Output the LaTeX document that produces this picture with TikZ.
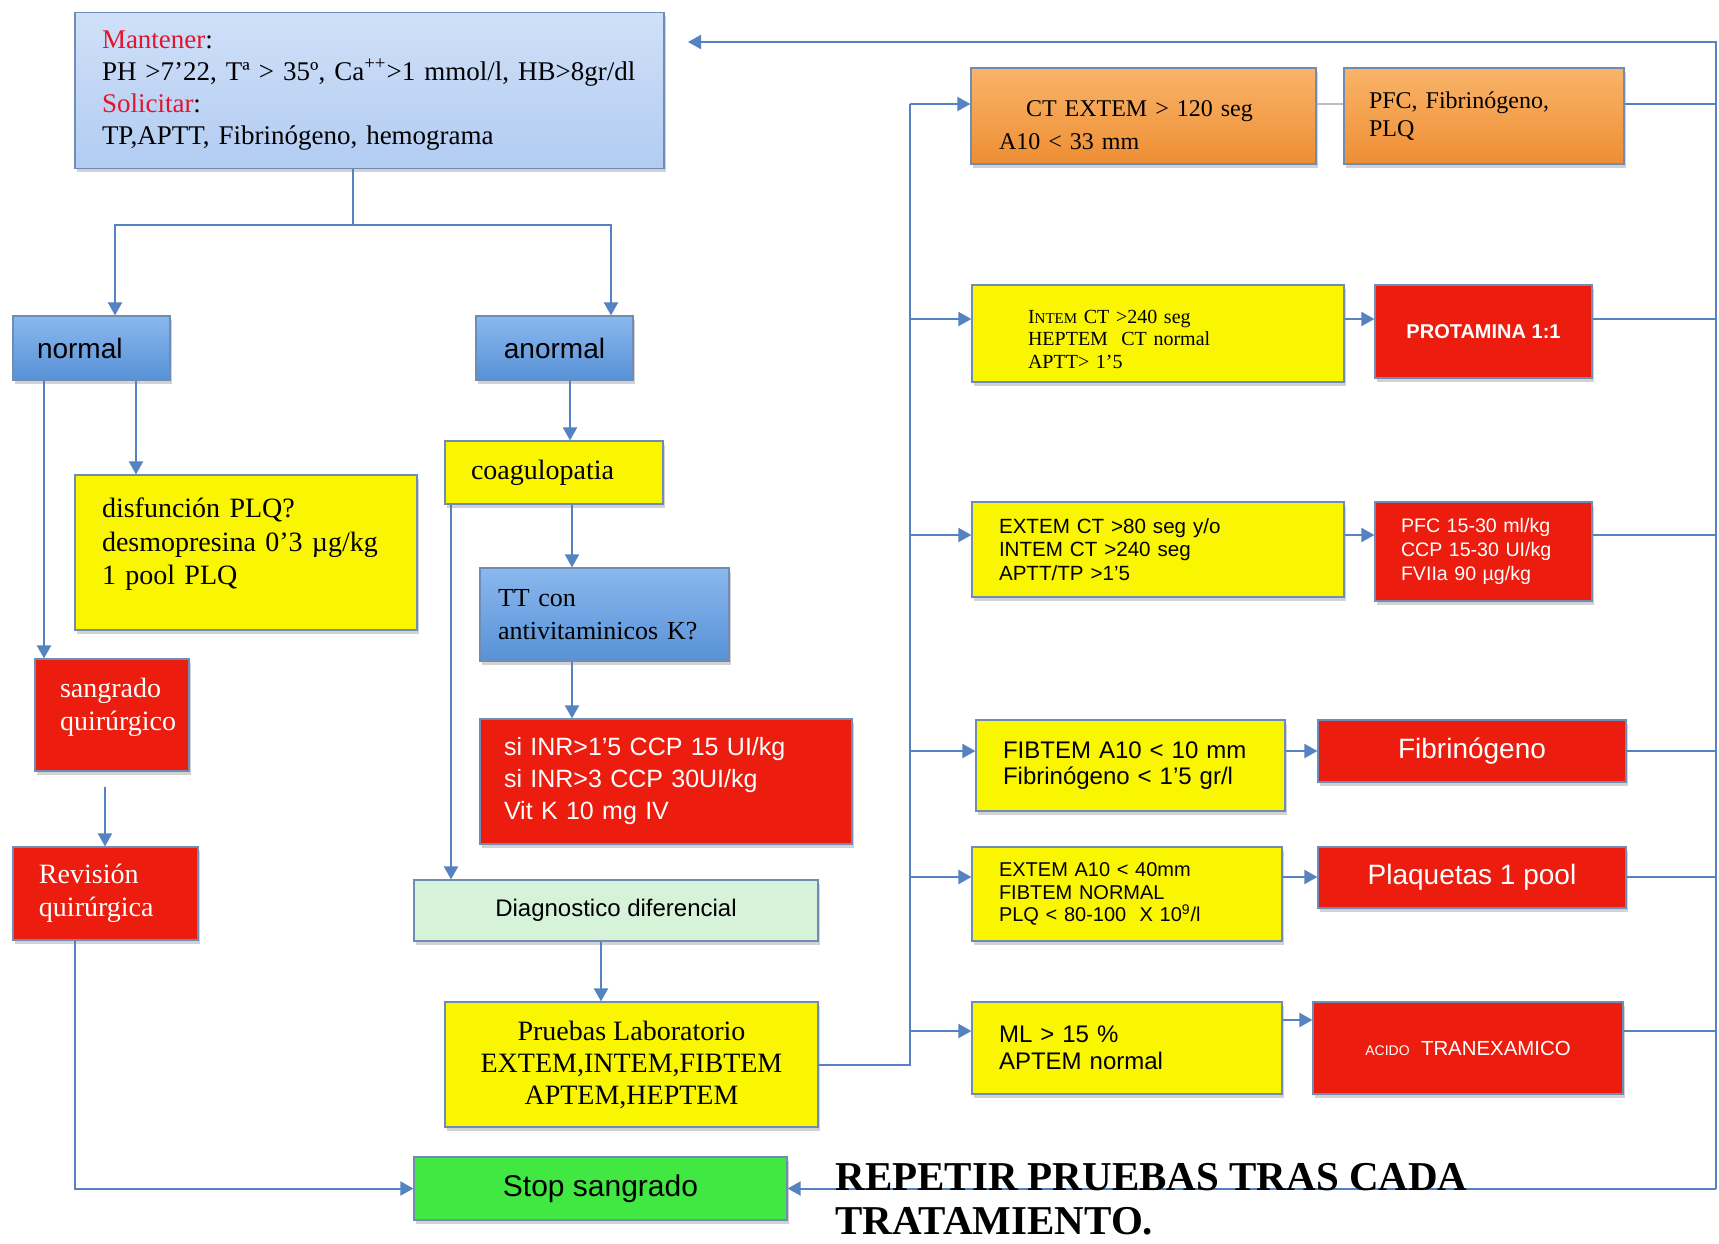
\documentclass[tikz,border=0pt]{standalone}
\usepackage{fontspec}
\setmainfont{Liberation Serif}
\setsansfont{Liberation Sans}
\usepackage{tikz}
\usetikzlibrary{arrows.meta, shadows}

\definecolor{borde}{RGB}{110,140,180}
\definecolor{azullinea}{RGB}{85,130,192}
\definecolor{celesteA}{RGB}{208,224,248}
\definecolor{celesteB}{RGB}{178,204,242}
\definecolor{azulA}{RGB}{138,184,238}
\definecolor{azulB}{RGB}{88,145,215}
\definecolor{amarillo}{RGB}{250,246,0}
\definecolor{rojo}{RGB}{236,28,14}
\definecolor{naranjaA}{RGB}{249,180,104}
\definecolor{naranjaB}{RGB}{238,142,52}
\definecolor{verde}{RGB}{66,232,66}
\definecolor{verdeclaro}{RGB}{214,242,216}
\definecolor{rojotexto}{RGB}{228,20,45}

\begin{document}
\begin{tikzpicture}[
    x=0.5pt, y=-0.5pt,
    caja/.style={draw=borde, line width=0.6pt, align=left, inner ysep=0pt,
        drop shadow={shadow xshift=1.2pt, shadow yshift=-1.8pt, opacity=0.35}},
    celeste/.style={caja, top color=celesteA, bottom color=celesteB},
    azul/.style={caja, top color=azulA, bottom color=azulB},
    amarilla/.style={caja, fill=amarillo},
    roja/.style={caja, fill=rojo, text=white},
    naranja/.style={caja, top color=naranjaA, bottom color=naranjaB},
    verde/.style={caja, fill=verde},
    verdeclara/.style={caja, fill=verdeclaro},
    letra/.style 2 args={font=\fontsize{#1}{#2}\selectfont},
    letrasf/.style 2 args={font=\sffamily\fontsize{#1}{#2}\selectfont},
    flecha/.style={draw=azullinea, line width=1pt, -{Triangle[length=6.5pt, width=7pt]}},
    linea/.style={draw=azullinea, line width=1pt},
    aviso/.style={font=\bfseries\fontsize{20.5}{22}\selectfont, align=left, inner sep=0pt}
]
\fill[white] (0,0) rectangle (1719,1243);
\useasboundingbox (0,0) rectangle (1719,1243);

% columna izquierda
\node[celeste, letra={13.5}{16}, text width=267.5pt, inner xsep=13.5pt, minimum height=78pt] (arriba) at (369.5,90.5)
    {{\color{rojotexto}Mantener}:\\PH >7’22, Tª > 35º, Ca\textsuperscript{++}>1 mmol/l, HB>8gr/dl\\{\color{rojotexto}Solicitar}:\\TP,APTT, Fibrinógeno, hemograma};
\node[azul, letrasf={14}{16}, text width=54.5pt, inner xsep=12pt, minimum height=32pt] (normal) at (91.5,348) {normal};
\node[azul, letrasf={14}{16}, align=center, minimum width=78.5pt, minimum height=32pt] (anormal) at (554.5,348) {anormal};
\node[amarilla, letra={14}{16.7}, text width=144pt, inner xsep=13.5pt, minimum height=77.5pt] (disf) at (246,552.5)
    {disfunción PLQ?\\desmopresina 0’3 µg/kg\\1 pool PLQ\\[-5.7pt]\mbox{}};
\node[roja, letra={14}{16.4}, text width=52pt, inner xsep=12.5pt, minimum height=56pt] (sangrado) at (112,715) {sangrado\\quirúrgico\\[-5.4pt]\mbox{}};
\node[roja, letra={14}{16.4}, text width=66.5pt, inner xsep=13pt, minimum height=46.5pt] (revision) at (105.5,893.5) {Revisión\\quirúrgica};

% columna central
\node[amarilla, letra={14}{16}, text width=83pt, inner xsep=13pt, minimum height=31.5pt] (coag) at (554,472.5) {coagulopatia};
\node[azul, letra={13}{16.4}, text width=106.5pt, inner xsep=9pt, minimum height=46.5pt] (tt) at (604.5,614.5) {TT con\\antivitaminicos K?};
\node[roja, letrasf={12.5}{16}, text width=162pt, inner xsep=12pt, minimum height=62.5pt] (inr) at (666,781.5)
    {si INR>1’5 CCP 15 UI/kg\\si INR>3 CCP 30UI/kg\\Vit K 10 mg IV};
\node[verdeclara, letrasf={12}{14}, align=center, minimum width=202pt, minimum height=30.5pt] (diag) at (616,910.5) {Diagnostico diferencial};
\node[amarilla, letra={14}{16}, align=center, minimum width=186.5pt, minimum height=62.5pt] (pruebas) at (631.5,1064.5)
    {Pruebas Laboratorio\\EXTEM,INTEM,FIBTEM\\APTEM,HEPTEM};
\node[verde, letrasf={15}{17}, align=center, minimum width=186.5pt, minimum height=31.5pt] (stop) at (600.5,1188.5) {Stop sangrado};

% columna derecha
\node[naranja, letra={12}{16.4}, text width=144.5pt, inner xsep=14pt, minimum height=48pt] (ct) at (1143.5,116)
    {\mbox{}\\[0.8pt]\hspace*{13.5pt}CT EXTEM > 120 seg\\A10 < 33 mm};
\node[naranja, letra={12}{14.3}, text width=115pt, inner xsep=12.5pt, minimum height=48pt] (pfcorange) at (1484,116)
    {PFC, Fibrinógeno,\\PLQ};
\node[amarilla, letra={10}{11.2}, text width=130pt, inner xsep=28pt, minimum height=48.5pt] (intem) at (1158,333.5)
    {\mbox{}\\[1.3pt]I{\fontsize{7.5}{9}\selectfont NTEM} CT >240 seg\\HEPTEM \ CT normal\\APTT> 1’5};
\node[roja, letrasf={10}{12}, align=center, minimum width=108.5pt, minimum height=46.5pt] (protamina) at (1483.5,331.5)
    {\bfseries PROTAMINA 1:1};
\node[amarilla, letrasf={10.3}{11.8}, text width=159pt, inner xsep=13.5pt, minimum height=47.5pt] (extemct) at (1158,549.5)
    {EXTEM CT >80 seg y/o\\INTEM CT >240 seg\\APTT/TP >1’5};
\node[roja, letrasf={9.8}{11.8}, text width=82.5pt, inner xsep=13pt, minimum height=49.5pt] (pfcdosis) at (1483.5,551.5)
    {PFC 15-30 ml/kg\\CCP 15-30 UI/kg\\FVIIa 90 µg/kg};
\node[amarilla, letrasf={12}{13}, text width=127.5pt, inner xsep=13.5pt, minimum height=45.5pt] (fibtem) at (1130.5,765.5)
    {FIBTEM A10 < 10 mm\\Fibrinógeno < 1’5 gr/l};
\node[roja, letrasf={14}{16}, align=center, minimum width=154pt, minimum height=31pt] (fibrinogeno) at (1472,751) {Fibrinógeno};
\node[amarilla, letrasf={10}{11.2}, text width=128pt, inner xsep=13.5pt, minimum height=47pt] (extema) at (1127,894)
    {EXTEM A10 < 40mm\\FIBTEM NORMAL\\PLQ < 80-100 \ X 10\textsuperscript{9}/l};
\node[roja, letrasf={14}{16}, align=center, minimum width=154pt, minimum height=30.5pt] (plaquetas) at (1472,877.5) {Plaquetas 1 pool};
\node[amarilla, letrasf={12}{13.7}, text width=128pt, inner xsep=13.5pt, minimum height=46pt] (ml) at (1127,1048)
    {ML > 15 \%\\APTEM normal};
\node[roja, letrasf={10.2}{12}, align=center, minimum width=155pt, minimum height=46pt] (acido) at (1468,1048)
    {{\fontsize{7}{8}\selectfont ACIDO}\ \ TRANEXAMICO};

% conectores de la izquierda
\coordinate (rama) at (353,225);
\draw[linea] (arriba.south -| rama) -- (rama);
\draw[flecha] (rama) -| ([xshift=11.75pt]normal.north);
\draw[flecha] (rama) -| ([xshift=28.25pt]anormal.north);
\draw[flecha] ([xshift=-23.75pt]normal.south) -- ([xshift=-23.75pt]normal.south |- sangrado.north);
\draw[flecha] ([xshift=22.25pt]normal.south) -- ([xshift=22.25pt]normal.south |- disf.north);
\draw[flecha] ([xshift=-3.5pt,yshift=-7.5pt]sangrado.south) -- ([xshift=-3.5pt]sangrado.south |- revision.north);
\draw[flecha] ([xshift=-15.25pt]revision.south) |- (stop.west);
\draw[flecha] ([xshift=7.75pt]anormal.south) -- ([xshift=7.75pt]anormal.south |- coag.north);
\draw[flecha] ([xshift=9pt]coag.south) -- ([xshift=9pt]coag.south |- tt.north);
\draw[flecha] ([xshift=9pt]coag.south |- tt.south) -- ([xshift=9pt]coag.south |- inr.north);
\draw[flecha] ([xshift=-51.5pt]coag.south) -- ([xshift=-51.5pt]coag.south |- diag.north);
\draw[flecha] ([xshift=-7.5pt]diag.south) -- ([xshift=-7.5pt]diag.south |- pruebas.north);

% bus de pruebas y retorno
\foreach \n/\y in {1/104, 2/319, 3/535, 4/751, 5/877, 6/1031, 7/1020}
    \coordinate (f\n) at (910,\y);
\coordinate (retorno) at (1716,42);
\coordinate (tope) at (688,42);
\draw[linea] (pruebas.east) -| (f1);
\foreach \c/\f in {ct/f1, intem/f2, extemct/f3, fibtem/f4, extema/f5, ml/f6}
    \draw[flecha] (\f) -- (\c.west |- \f);
\foreach \a/\b/\f in {intem/protamina/f2, extemct/pfcdosis/f3, fibtem/fibrinogeno/f4, extema/plaquetas/f5, ml/acido/f7}
    \draw[flecha] (\a.east |- \f) -- (\b.west |- \f);
\draw[draw=gray!50, line width=0.6pt] (ct.east |- f1) -- (pfcorange.west |- f1);
\foreach \b/\f in {pfcorange/f1, protamina/f2, pfcdosis/f3, fibrinogeno/f4, plaquetas/f5, acido/f6}
    \draw[linea] (\b.east |- \f) -- (retorno |- \f);
\draw[flecha] (retorno |- stop.east) -- (retorno) -- (tope);
\draw[flecha] (retorno |- stop.east) -- (stop.east);

\node[aviso, anchor=north west] (repetir) at (835,1163) {REPETIR PRUEBAS TRAS CADA\\TRATAMIENTO.};
\end{tikzpicture}
\end{document}
